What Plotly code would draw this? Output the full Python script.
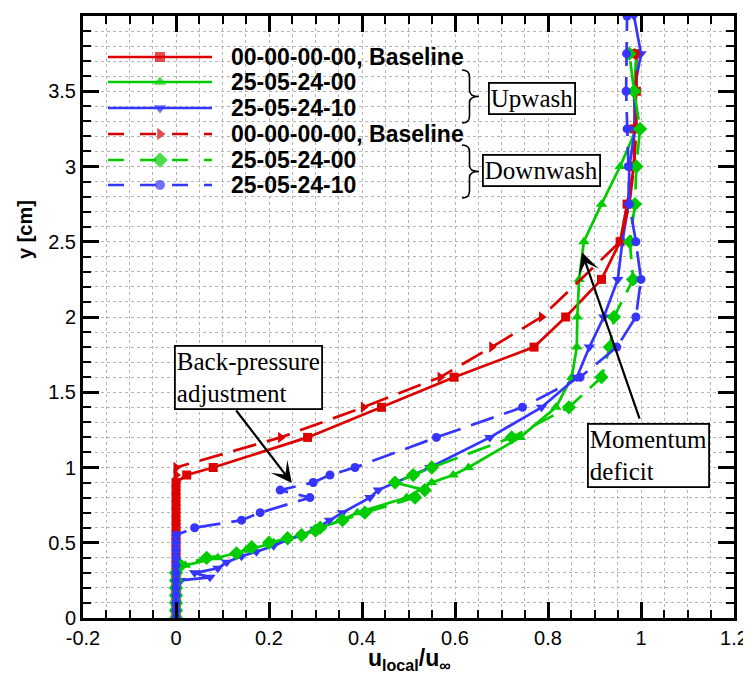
import plotly.graph_objects as go

# ---------------- data ----------------
series_names = ["00-00-00-00, Baseline", "25-05-24-00", "25-05-24-10",
                "00-00-00-00, Baseline", "25-05-24-00", "25-05-24-10"]

# Upwash, baseline (solid red, squares)
y_up_base = [0.0, 0.05, 0.1, 0.15, 0.2, 0.25, 0.3, 0.35, 0.4, 0.45, 0.5, 0.55, 0.6, 0.65, 0.7,
             0.75, 0.8, 0.85, 0.9, 0.95, 1.0, 1.2, 1.4, 1.6, 1.8, 2.0, 2.25, 2.5, 2.75, 3.0,
             3.25, 3.5, 3.75]
u_up_base = [0.0, 0.0, 0.0, 0.0, 0.0, 0.0, 0.0, 0.0, 0.0, 0.0, 0.0, 0.0, 0.0, 0.0, 0.0,
             0.0, 0.0, 0.0, 0.0, 0.023, 0.08, 0.283, 0.442, 0.598, 0.77, 0.838, 0.915, 0.955, 0.97,
             0.985, 0.985, 0.99, 0.99]

# Upwash, 25-05-24-00 (solid green, triangle-up)
y_up_a = [0.0, 0.05, 0.1, 0.15, 0.2, 0.25, 0.3, 0.35, 0.4, 0.45, 0.5, 0.55, 0.6, 0.65, 0.7,
          0.8, 0.9, 0.95, 1.0, 1.2, 1.4, 1.6, 1.8, 2.0, 2.25, 2.5, 2.75, 3.0, 3.25, 3.5, 3.75]
u_up_a = [0.0, 0.0, 0.0, 0.0, 0.0, 0.0, 0.0, 0.02, 0.09, 0.15, 0.21, 0.27, 0.31, 0.355, 0.39,
          0.496, 0.55, 0.596, 0.629, 0.74, 0.817, 0.851, 0.862, 0.863, 0.867, 0.877, 0.915, 0.955,
          0.99, 0.985, 0.99]

# Upwash, 25-05-24-10 (solid blue, triangle-down)
y_up_b = [0.0, 0.05, 0.1, 0.15, 0.2, 0.25, 0.27, 0.3, 0.33, 0.37, 0.41, 0.44, 0.48, 0.52, 0.55,
          0.59, 0.65, 0.7, 0.8, 0.85, 1.0, 1.2, 1.4, 1.6, 1.8, 2.0, 2.25, 2.5, 2.75, 3.0, 3.25,
          3.5, 3.75, 4.0]
u_up_b = [0.0, 0.0, 0.0, 0.0, 0.0, 0.01, 0.073, 0.04, 0.09, 0.109, 0.141, 0.173, 0.21, 0.241, 0.27,
          0.299, 0.33, 0.358, 0.417, 0.435, 0.546, 0.675, 0.786, 0.862, 0.889, 0.92, 0.95, 0.96,
          0.973, 0.975, 0.987, 0.985, 1.0, 0.985]

# Downwash, baseline (dashed red, triangle-right)
y_dn_base = [0.0, 0.05, 0.1, 0.15, 0.2, 0.25, 0.3, 0.35, 0.4, 0.45, 0.5, 0.55, 0.6, 0.65, 0.7,
             0.75, 0.8, 0.85, 0.9, 0.95, 1.0, 1.2, 1.4, 1.6, 1.8, 2.0, 2.5, 2.75, 3.0, 3.25, 3.5,
             3.75]
u_dn_base = [0.0, 0.0, 0.0, 0.0, 0.0, 0.0, 0.0, 0.0, 0.0, 0.0, 0.0, 0.0, 0.0, 0.0, 0.0,
             0.0, 0.0, 0.0, 0.0, 0.0, 0.0, 0.225, 0.403, 0.568, 0.679, 0.786, 0.955, 0.975, 0.985,
             0.99, 0.99, 0.99]

# Downwash, 25-05-24-00 (dashed green, diamonds)
y_dn_a = [0.0, 0.05, 0.1, 0.15, 0.2, 0.25, 0.3, 0.35, 0.4, 0.43, 0.47, 0.5, 0.53, 0.55, 0.58,
          0.6, 0.65, 0.7, 0.8, 0.85, 0.9, 0.95, 1.0, 1.2, 1.4, 1.6, 1.8, 2.0, 2.25, 2.5, 2.75,
          3.0, 3.25, 3.5, 3.75]
u_dn_a = [0.0, 0.0, 0.0, 0.0, 0.0, 0.0, 0.0, 0.01, 0.066, 0.13, 0.163, 0.2, 0.24, 0.27, 0.3,
          0.31, 0.358, 0.406, 0.514, 0.535, 0.471, 0.51, 0.55, 0.722, 0.845, 0.915, 0.933, 0.942,
          0.983, 0.976, 0.987, 0.99, 0.998, 0.985, 0.975]

# Downwash, 25-05-24-10 (dashed blue, circles)
y_dn_b = [0.0, 0.05, 0.1, 0.15, 0.2, 0.25, 0.3, 0.35, 0.4, 0.45, 0.5, 0.55, 0.6, 0.65, 0.7,
          0.8, 0.85, 0.9, 0.95, 1.0, 1.2, 1.4, 1.6, 1.8, 2.0, 2.25, 2.5, 2.75, 3.0, 3.25, 3.5,
          3.75, 4.0]
u_dn_b = [0.0, 0.0, 0.0, 0.0, 0.0, 0.0, 0.0, 0.0, 0.0, 0.0, 0.0, 0.0, 0.04, 0.141, 0.181,
          0.288, 0.224, 0.295, 0.331, 0.385, 0.56, 0.745, 0.869, 0.948, 0.989, 1.0, 0.989, 0.975,
          0.973, 0.97, 0.968, 0.969, 0.97]

x_ticks = [-0.2, 0.0, 0.2, 0.4, 0.6, 0.8, 1.0, 1.2]
x_tick_labels = ["-0.2", "0", "0.2", "0.4", "0.6", "0.8", "1", "1.2"]
y_ticks = [0.0, 0.5, 1.0, 1.5, 2.0, 2.5, 3.0, 3.5, 4.0]
y_tick_labels = ["0", "0.5", "1", "1.5", "2", "2.5", "3", "3.5", "4"]

# ---------------- styling ----------------
RED, GREEN, BLUE = "#dd0000", "#00cc00", "#3535ff"
DATA_DASH = "24px,11px"
LEG_DASH = "16px,16px"

styles = [
    (u_up_base, y_up_base, RED, "solid", "square", 9),
    (u_up_a, y_up_a, GREEN, "solid", "triangle-up", 10),
    (u_up_b, y_up_b, BLUE, "solid", "triangle-down", 10),
    (u_dn_base, y_dn_base, RED, DATA_DASH, "triangle-right", 10),
    (u_dn_a, y_dn_a, GREEN, DATA_DASH, "diamond", 11),
    (u_dn_b, y_dn_b, BLUE, DATA_DASH, "circle", 9),
]

# window / page geometry (the html body has an 8px default margin)
WIN_W, WIN_H, BODY = 751, 677, 8
W, H = WIN_W - BODY, WIN_H - BODY
# plot-area edges in window pixels
PL, PR, PT, PB = 83, 734, 16, 618


def px2x(px):
    return (px - PL) / (PR - PL)


def py2y(py):
    return (PB - py) / (PB - PT)


fig = go.Figure()
for (u, y, col, dash, sym, ms), name in zip(styles, series_names):
    fig.add_trace(go.Scatter(
        x=u, y=y, mode="lines+markers", name=name, showlegend=False,
        line=dict(color=col, width=2.7, dash=dash),
        marker=dict(symbol=sym, size=ms, color=col, line=dict(width=0)),
    ))

# ---------------- hand-drawn legend (long line samples like the original) ----------------
leg_rows = [57, 82, 108, 134, 160, 185]
leg_x0, leg_xm, leg_x1, leg_tx = 108, 160, 212, 229
for (u, y, col, dash, sym, ms), name, row in zip(styles, series_names, leg_rows):
    ldash = "solid" if dash == "solid" else LEG_DASH
    fig.add_trace(go.Scatter(
        x=[px2x(leg_x0), px2x(leg_xm), px2x(leg_x1)], y=[py2y(row)] * 3,
        xaxis="x2", yaxis="y2", mode="lines+markers", showlegend=False, hoverinfo="skip",
        line=dict(color=col, width=2.7, dash=ldash),
        marker=dict(symbol=sym, size=[0, ms + 1, 0], color=col, line=dict(width=0)),
        cliponaxis=False,
    ))
    fig.add_annotation(xref="paper", yref="paper", x=px2x(leg_tx), y=py2y(row),
                       xanchor="left", yanchor="middle", showarrow=False,
                       text="<b>%s</b>" % name,
                       font=dict(family="Liberation Sans, Arial", size=23, color="black"))


# braces
def brace_path(xl, xr, ytop, ybot):
    ym = (ytop + ybot) / 2
    xc = (xl + xr) / 2 - 1
    pts = [
        ("M", [(xl, ytop)]),
        ("Q", [(xc, ytop), (xc, ytop + 7)]),
        ("L", [(xc, ym - 6)]),
        ("Q", [(xc, ym), (xr, ym)]),
        ("Q", [(xc, ym), (xc, ym + 6)]),
        ("L", [(xc, ybot - 7)]),
        ("Q", [(xc, ybot), (xl, ybot)]),
    ]
    s = ""
    for cmd, pl in pts:
        s += cmd + " ".join("%.5f,%.5f" % (px2x(a), py2y(b)) for a, b in pl) + " "
    return s.strip()


for ytop, ybot in [(70, 123), (145, 198)]:
    fig.add_shape(type="path", xref="paper", yref="paper",
                  path=brace_path(462, 479, ytop, ybot),
                  line=dict(color="black", width=1.6))

SERIF = "Liberation Serif, Times New Roman"
box_notes = [
    ("Upwash", 532, 98, "center"),
    ("Downwash", 541, 171, "center"),
    ("Back-pressure<br>adjustment", 248, 377.5, "left"),
    ("Momentum<br>deficit", 648, 455, "left"),
]
for txt, cx, cy, al in box_notes:
    fig.add_annotation(xref="paper", yref="paper", x=px2x(cx), y=py2y(cy),
                       xanchor="center", yanchor="middle", showarrow=False,
                       text=txt, align=al,
                       font=dict(family=SERIF, size=25, color="black"),
                       bordercolor="black", borderwidth=1.8, borderpad=1,
                       bgcolor="white")

# arrows (tip, tail) in data units
arrows = [((0.249, 0.897), (0.127, 1.389)),
          ((0.873, 2.43), (0.998, 1.315))]
for (tx, ty), (ax, ay) in arrows:
    fig.add_annotation(x=tx, y=ty, ax=ax, ay=ay, xref="x", yref="y", axref="x", ayref="y",
                       text="", showarrow=True, arrowhead=3, arrowsize=1.6,
                       arrowwidth=2.2, arrowcolor="black")

# axis titles (placed at the plot-area edge and pushed out by a pixel shift)
fig.add_annotation(xref="paper", yref="paper", x=0, y=py2y(230),
                   xanchor="center", yanchor="middle", xshift=25 - PL,
                   text="<b>y [cm]</b>", textangle=-90, showarrow=False,
                   font=dict(family="Liberation Sans, Arial", size=20, color="black"))
fig.add_annotation(xref="paper", yref="paper", x=px2x(409), y=0,
                   xanchor="center", yanchor="middle", yshift=PB - 659,
                   text="<b>u<sub>local</sub>/u<sub>∞</sub></b>", showarrow=False,
                   font=dict(family="Liberation Sans, Arial", size=23, color="black"))

GRID = "#b4b4b4"
axis_common = dict(
    showline=True, linewidth=3, linecolor="black", mirror="ticks",
    ticks="inside", ticklen=16, tickwidth=2.5, tickcolor="black",
    showgrid=True, gridcolor=GRID, gridwidth=1, griddash="dot",
    zeroline=False, automargin=False,
    tickfont=dict(family="Liberation Sans, Arial", size=20, color="black"),
)
fig.update_layout(
    width=W, height=H,
    margin=dict(l=PL - BODY, r=WIN_W - PR, t=PT - BODY, b=WIN_H - PB, autoexpand=False),
    paper_bgcolor="white", plot_bgcolor="white",
    showlegend=False,
    xaxis=dict(range=[-0.2, 1.2], tickvals=x_ticks, ticktext=x_tick_labels,
               minor=dict(dtick=0.05, tick0=0, ticks="inside", ticklen=8, tickwidth=1.5,
                          tickcolor="black", showgrid=True, gridcolor=GRID, gridwidth=1,
                          griddash="dot"),
               **axis_common),
    yaxis=dict(range=[0, 4], tickvals=y_ticks, ticktext=y_tick_labels,
               minor=dict(dtick=0.1, tick0=0, ticks="inside", ticklen=8, tickwidth=1.5,
                          tickcolor="black", showgrid=True, gridcolor=GRID, gridwidth=1,
                          griddash="dot"),
               **axis_common),
    xaxis2=dict(overlaying="x", range=[0, 1], visible=False, fixedrange=True),
    yaxis2=dict(overlaying="y", range=[0, 1], visible=False, fixedrange=True),
)

fig.write_html("out.html")
